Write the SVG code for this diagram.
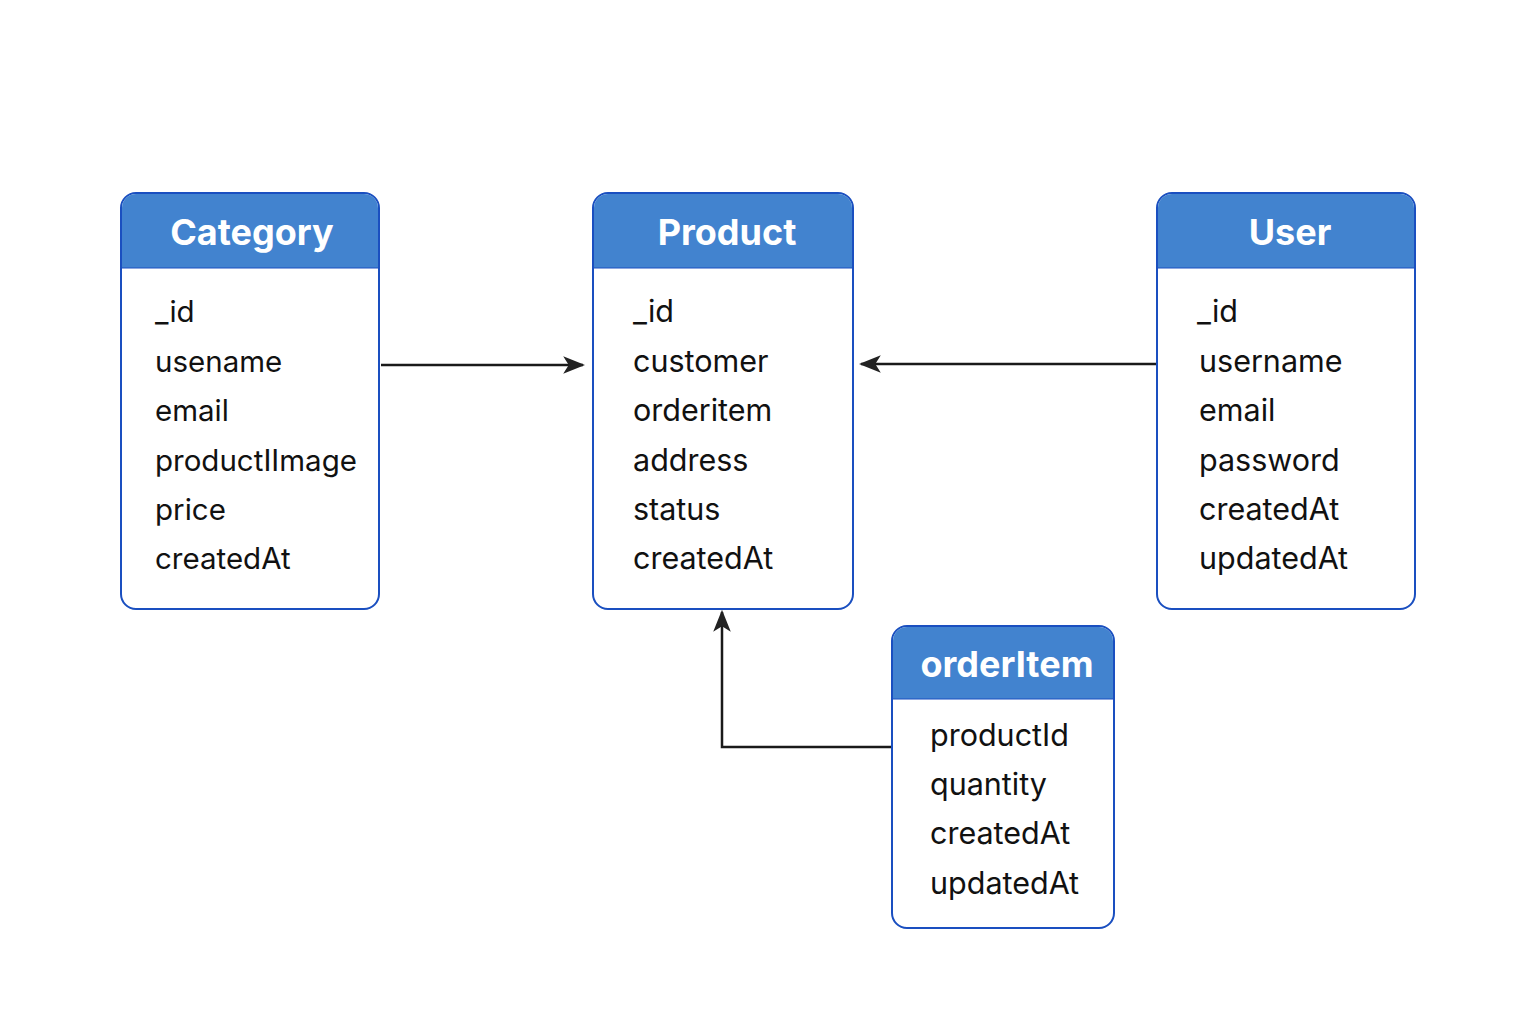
<svg xmlns="http://www.w3.org/2000/svg" width="1536" height="1024" viewBox="0 0 1536 1024">
<style>
.box{fill:#fff;stroke:#1a4fc0;stroke-width:2}
.hdr{fill:#4283cf}
.title{font-family:Inter,"Liberation Sans",sans-serif;font-weight:700;font-size:36px;fill:#fff;text-anchor:middle}
.f{font-family:Inter,"Liberation Sans",sans-serif;font-size:30.5px;fill:#111}
.fc{font-size:29.5px}
.c{fill:none;stroke:#1a1a1a;stroke-width:2.5}
</style>
<defs>
<marker id="ah2" viewBox="0 0 20 20" refX="18" refY="10" markerWidth="22" markerHeight="22" markerUnits="userSpaceOnUse" orient="auto">
<path d="M0,2 L20,10 L0,18 L5,10 Z" fill="#222"/>
</marker>
</defs>
<rect width="1536" height="1024" fill="#fff"/>
<g id="connectors">
<line class="c" x1="381" y1="365" x2="583" y2="365" marker-end="url(#ah2)"/>
<line class="c" x1="1157" y1="364" x2="861" y2="364" marker-end="url(#ah2)"/>
<polyline class="c" points="892,747 722,747 722,612" marker-end="url(#ah2)"/>
</g>
<g id="category">
<rect class="box" x="121" y="193" width="258" height="416" rx="15"/>
<path class="hdr" d="M136,194 H364 A14,14 0 0 1 378,208 V268 H122 V208 A14,14 0 0 1 136,194 Z"/>
<line x1="122" y1="268" x2="378" y2="268" stroke="#1a4fc0" stroke-width="1"/>
<text class="title" x="252" y="245">Category</text>
<text class="f fc" x="155" y="322">_id</text>
<text class="f fc" x="155" y="372">usename</text>
<text class="f fc" x="155" y="421">email</text>
<text class="f fc" x="155" y="471">productIImage</text>
<text class="f fc" x="155" y="520">price</text>
<text class="f fc" x="155" y="569">createdAt</text>
</g>
<g id="product">
<rect class="box" x="593" y="193" width="260" height="416" rx="15"/>
<path class="hdr" d="M608,194 H838 A14,14 0 0 1 852,208 V268 H594 V208 A14,14 0 0 1 608,194 Z"/>
<line x1="594" y1="268" x2="852" y2="268" stroke="#1a4fc0" stroke-width="1"/>
<text class="title" x="727" y="245">Product</text>
<text class="f" x="633" y="322">_id</text>
<text class="f" x="633" y="372">customer</text>
<text class="f" x="633" y="421">orderitem</text>
<text class="f" x="633" y="471">address</text>
<text class="f" x="633" y="520">status</text>
<text class="f" x="633" y="569">createdAt</text>
</g>
<g id="user">
<rect class="box" x="1157" y="193" width="258" height="416" rx="15"/>
<path class="hdr" d="M1172,194 H1400 A14,14 0 0 1 1414,208 V268 H1158 V208 A14,14 0 0 1 1172,194 Z"/>
<line x1="1158" y1="268" x2="1414" y2="268" stroke="#1a4fc0" stroke-width="1"/>
<text class="title" x="1290" y="245">User</text>
<text class="f" x="1197" y="322">_id</text>
<text class="f" x="1199" y="372">username</text>
<text class="f" x="1199" y="421">email</text>
<text class="f" x="1199" y="471">password</text>
<text class="f" x="1199" y="520">createdAt</text>
<text class="f" x="1199" y="569">updatedAt</text>
</g>
<g id="orderItem">
<rect class="box" x="892" y="626" width="222" height="302" rx="15"/>
<path class="hdr" d="M907,627 H1099 A14,14 0 0 1 1113,641 V699 H893 V641 A14,14 0 0 1 907,627 Z"/>
<line x1="893" y1="699" x2="1113" y2="699" stroke="#1a4fc0" stroke-width="1"/>
<text class="title" x="1007" y="677">orderItem</text>
<text class="f" x="930" y="746">productId</text>
<text class="f" x="930" y="795">quantity</text>
<text class="f" x="930" y="844">createdAt</text>
<text class="f" x="930" y="894">updatedAt</text>
</g>
</svg>
